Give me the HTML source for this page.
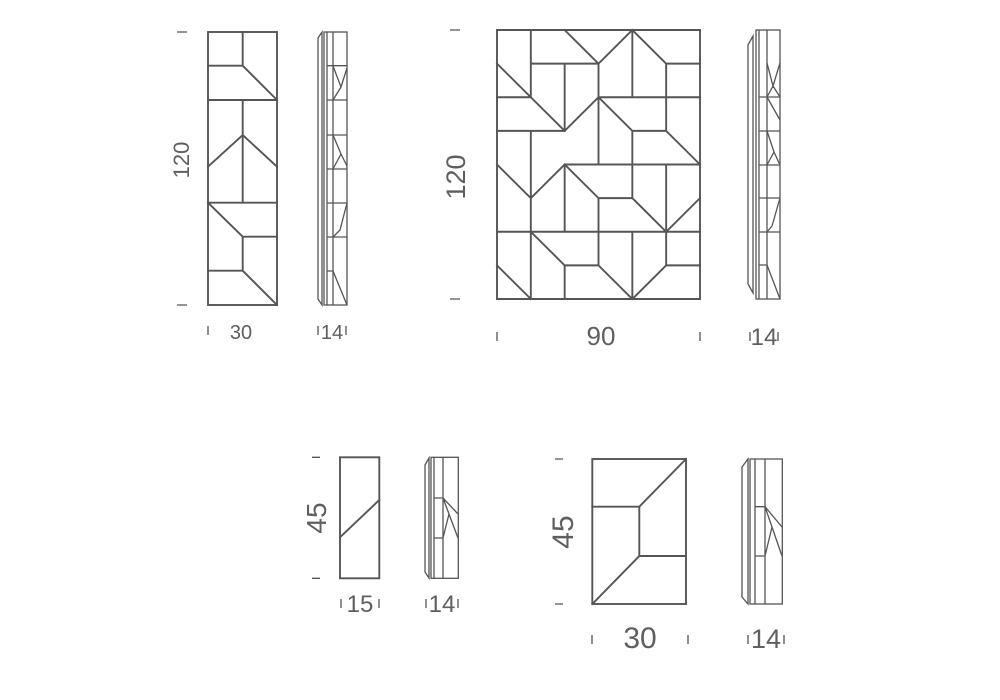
<!DOCTYPE html>
<html><head><meta charset="utf-8"><style>
html,body{margin:0;padding:0;background:#fff}
svg{display:block}
text{font-family:"Liberation Sans",sans-serif;fill:#5f5f5f}
.l{stroke:#555;stroke-width:1.9;fill:none;stroke-linecap:square}
.t{stroke:#555;stroke-width:1.3;fill:none}
.u{vector-effect:non-scaling-stroke}
</style></head><body>
<svg width="1000" height="700" viewBox="0 0 1000 700" xmlns="http://www.w3.org/2000/svg">
<g class="l">
<rect x="208" y="32" width="69" height="273"/>
<path d="M242.7,32V65.7H208M242.7,65.7L277,100M208,100H277M242.7,100V202.7M208,166.7L242.7,135L277,166.7M208,202.7H277M208,202.7L242.7,236.7H277M242.7,236.7V270.7H208M242.7,270.7L277,305"/>
</g>
<g class="t">
<path d="M318,38L322,32V305L318,299Z"/>
<rect x="324" y="32" width="23" height="273"/>
<path d="M327,32V305M333,32V305M327,65.7H347M327,100H347M327,135H347M327,169H347M327,203H347M327,237H347M327,271H333"/>
<path d="M333,66L341,87L333,100M341,87L347,68M333,135L341,154L347,166M341,154L333,169M347,203L340,230L333,237M333,271L347,305"/>
</g>
<g class="t"><path d="M177,32H187M177,305H187M208,326V335M318,326V335M346,326V335"/></g>
<text x="181" y="160" font-size="22" text-anchor="middle" transform="rotate(-90 181 160)" dy="8">120</text>
<text x="241" y="339" font-size="20" text-anchor="middle">30</text>
<text x="332" y="339" font-size="20" text-anchor="middle">14</text>

<g transform="translate(497,30) scale(33.833,33.625)" class="l">
<rect class="u" x="0" y="0" width="6" height="8"/>
<path class="u" d="M1,0V2M1,3V8M0,1L2,3M1,1H3M2,0L3,1L4,0L5,1H6M2,1V3M2,4V6M2,7V8M3,1V4M3,5V7M4,0V2M4,3V5M4,6V8M5,1V3M5,4V7M0,2H1M3,2H6M2,3L3,2L4,3M0,3H2M4,3H5M5,3L6,4M2,4H6M0,4L1,5L2,4L3,5M3,5H4M4,5L5,6L6,5M0,6H6M1,6L2,7H3M5,7H6M0,7L1,8M3,7L4,8L5,7"/>
</g>
<g class="t">
<path d="M748,45L753,36V293L748,284Z"/>
<rect x="756" y="30" width="24" height="269"/>
<path d="M759,30V299M767,30V299M759,97H780M759,131H780M759,165H780M759,198H780M759,232H780M759,265H767"/>
<path d="M767,63L773,86L780,63M773,86L767,97M767,97L780,120M773,86L780,97M767,131L774,152L780,165M774,152L767,165M780,198L772,226L767,232M767,265L780,299"/>
</g>
<g class="t"><path d="M450,30H460M450,299H460M497,332V341M700,332V341M750,332V341M778,332V341"/></g>
<text x="455" y="177" font-size="27" text-anchor="middle" transform="rotate(-90 455 177)" dy="10">120</text>
<text x="601" y="345" font-size="26" text-anchor="middle">90</text>
<text x="764" y="345" font-size="24" text-anchor="middle">14</text>

<g class="l">
<rect x="340" y="457.3" width="39.3" height="121"/>
<path d="M340,537.3L379.3,500"/>
</g>
<g class="t">
<path d="M425,465L429,458V578L425,572Z"/>
<rect x="431" y="457.3" width="27.3" height="121"/>
<path d="M434,457.3V578.3M443,457.3V578.3M434,498H443M434,538H443M443,498L449,514L458,538M449,514L443,538M443,498L458,514"/>
</g>
<g class="t"><path d="M312,457.3H320M312,578.3H320M341,599V608M379,599V608M426,599V608M458,599V608"/></g>
<text x="316" y="518" font-size="28" text-anchor="middle" transform="rotate(-90 316 518)" dy="10">45</text>
<text x="360" y="612" font-size="24" text-anchor="middle">15</text>
<text x="442" y="612" font-size="24" text-anchor="middle">14</text>

<g class="l">
<rect x="592.3" y="459" width="93.7" height="145"/>
<path d="M592.3,506.7H639.3V556H686M639.3,506.7L686,459M592.3,604L639.3,556"/>
</g>
<g class="t">
<path d="M742,467L748,459V604L742,597Z"/>
<rect x="750" y="459" width="32.3" height="145"/>
<path d="M755,459V604M765,459V604M755,506.7H765M755,556H765M765,506.7L772,527L782,556M772,527L765,556M765,506.7L782,527"/>
</g>
<g class="t"><path d="M555,459H563M555,604H563M592,635V644M688,635V644M748,635V644M784,635V644"/></g>
<text x="562" y="532" font-size="30" text-anchor="middle" transform="rotate(-90 562 532)" dy="11">45</text>
<text x="640" y="648" font-size="30" text-anchor="middle">30</text>
<text x="766" y="648" font-size="27" text-anchor="middle">14</text>
</svg>
</body></html>
